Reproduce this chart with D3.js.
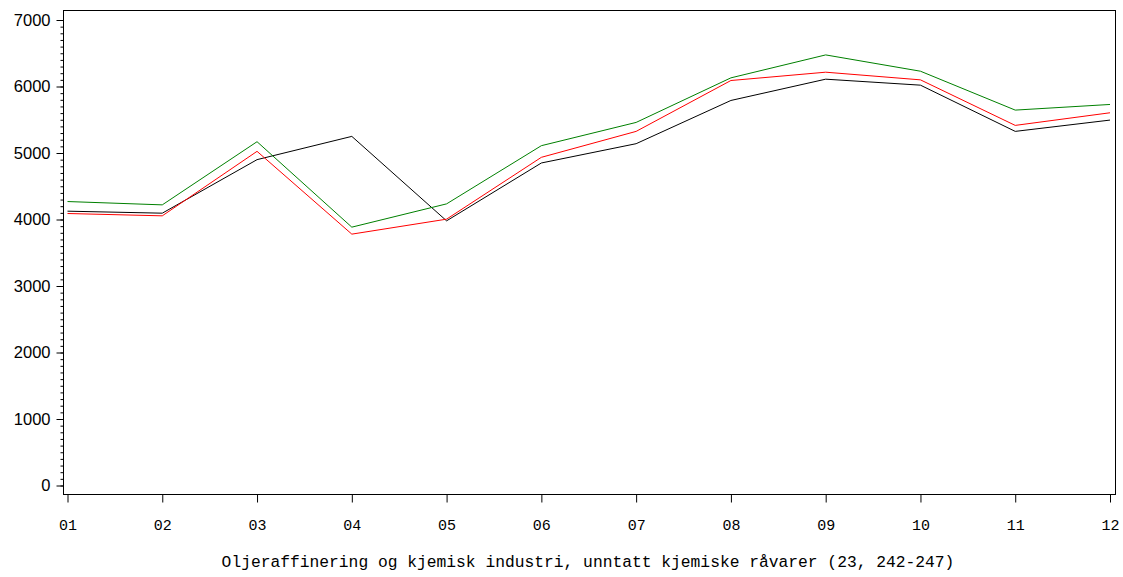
<!DOCTYPE html>
<html>
<head>
<meta charset="utf-8">
<script src="https://cdn.jsdelivr.net/npm/d3@7"></script>
<style>
  html, body { margin: 0; padding: 0; background: #fff; }
  svg { display: block; }
</style>
</head>
<body>
<svg id="chart" width="1123" height="577"></svg>
<script>
// Months on the x axis
const months = ["01","02","03","04","05","06","07","08","09","10","11","12"];

// Three monthly series
const seriesBlack = [4125, 4095, 4900, 5250, 3980, 4850, 5140, 5790, 6110, 6020, 5325, 5495];
const seriesRed   = [4090, 4055, 5025, 3780, 4005, 4935, 5325, 6090, 6215, 6100, 5415, 5605];
const seriesGreen = [4270, 4220, 5170, 3885, 4235, 5110, 5460, 6130, 6475, 6230, 5645, 5730];

// Axis ticks
const yMajorTicks = [0, 1000, 2000, 3000, 4000, 5000, 6000, 7000];
const yMinorTicks = d3.range(0, 7001, 100);

const xTitle = "Oljeraffinering og kjemisk industri, unntatt kjemiske råvarer (23, 242-247)";

const svg = d3.select("#chart");

const frame = { left: 63.5, right: 1115.5, top: 10.5, bottom: 494.5 };

const x = d3.scalePoint().domain(months).range([67.5, 1110]);
const y = d3.scaleLinear().domain([0, 7000]).range([485.5, 20]);

// Plot frame
svg.append("rect")
  .attr("x", frame.left).attr("y", frame.top)
  .attr("width", frame.right - frame.left)
  .attr("height", frame.bottom - frame.top)
  .attr("fill", "none").attr("stroke", "#000").attr("stroke-width", 1);

// Y axis: minor ticks
const yMinor = svg.append("g").attr("transform", `translate(${frame.left},0)`)
  .call(d3.axisLeft(y).tickValues(yMinorTicks).tickSize(3).tickFormat(""));
yMinor.select(".domain").remove();

// Y axis: major ticks and labels
const yMajor = svg.append("g").attr("transform", `translate(${frame.left},0)`)
  .call(d3.axisLeft(y).tickValues(yMajorTicks).tickSize(7).tickPadding(6).tickFormat(d3.format("d")));
yMajor.select(".domain").remove();
yMajor.selectAll("text")
  .attr("font-family", "'Liberation Sans', Arial, sans-serif")
  .attr("font-size", 16.5)
  .attr("fill", "#000");

// X axis
const xAxis = svg.append("g").attr("transform", `translate(0,${frame.bottom})`)
  .call(d3.axisBottom(x).tickSize(8).tickPadding(17));
xAxis.select(".domain").remove();
xAxis.selectAll("text")
  .attr("font-family", "'Liberation Mono', 'DejaVu Sans Mono', monospace")
  .attr("font-size", 15)
  .attr("fill", "#000");

// X axis title
svg.append("text")
  .attr("x", 588).attr("y", 567)
  .attr("text-anchor", "middle")
  .attr("font-family", "'Liberation Mono', 'DejaVu Sans Mono', monospace")
  .attr("font-size", 16.3)
  .attr("fill", "#000")
  .text(xTitle);

// Lines
const line = d3.line()
  .x((d, i) => x(months[i]))
  .y(d => y(d));

const series = [
  { values: seriesBlack, color: "#000000" },
  { values: seriesRed,   color: "#ff0000" },
  { values: seriesGreen, color: "#008000" }
];

svg.append("g").selectAll("path")
  .data(series)
  .join("path")
  .attr("d", d => line(d.values))
  .attr("fill", "none")
  .attr("stroke", d => d.color)
  .attr("stroke-width", 1);
</script>
</body>
</html>
